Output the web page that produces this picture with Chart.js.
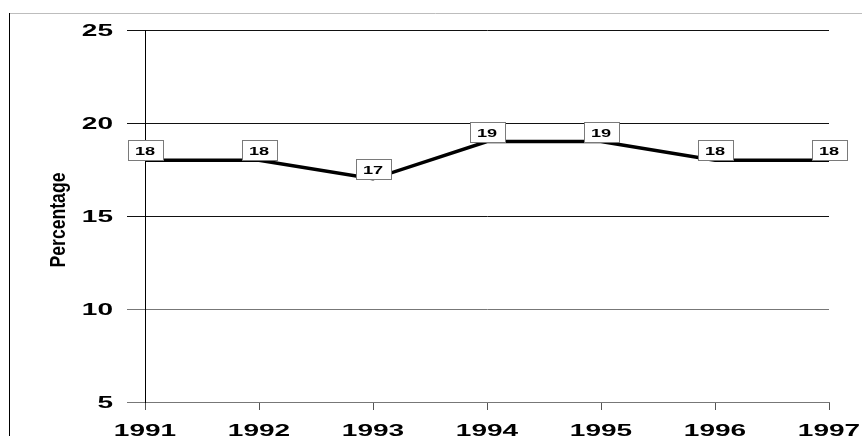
<!DOCTYPE html>
<html>
<head>
<meta charset="utf-8">
<script src="https://cdn.jsdelivr.net/npm/chart.js@4/dist/chart.umd.min.js"></script>
<style>
html,body{margin:0;padding:0;background:#fff;}
canvas{display:block;}
</style>
</head>
<body>
<canvas id="c" width="862" height="436"></canvas>
<script>
const years = ['1991','1992','1993','1994','1995','1996','1997'];
const percentage = [18, 18, 17, 19, 19, 18, 18];
const yTicks = [5, 10, 15, 20, 25];
const yTitle = 'Percentage';

function drawStretched(ctx, text, x, y, align, sx) {
  ctx.save();
  ctx.translate(x, y);
  ctx.scale(sx, 1);
  ctx.textAlign = align;
  ctx.textBaseline = 'middle';
  ctx.fillText(text, 0, 0);
  ctx.restore();
}

const decor = {
  id: 'decor',
  beforeDraw(chart) {
    const ctx = chart.ctx;
    ctx.save();
    ctx.fillStyle = '#fff';
    ctx.fillRect(0, 0, chart.width, chart.height);
    ctx.strokeStyle = '#bdbdbd';
    ctx.lineWidth = 1;
    ctx.beginPath();
    ctx.moveTo(9, 13.5); ctx.lineTo(chart.width, 13.5);
    ctx.stroke();
    ctx.strokeStyle = '#000';
    ctx.beginPath();
    ctx.moveTo(9.5, 13); ctx.lineTo(9.5, chart.height);
    ctx.stroke();
    ctx.restore();
  },
  afterDraw(chart) {
    const ctx = chart.ctx;
    const ys = chart.scales.y, xs = chart.scales.x;
    ctx.save();
    ctx.fillStyle = '#000';
    ctx.font = 'bold 16px "Liberation Sans", Arial, sans-serif';
    ys.ticks.forEach(t => {
      drawStretched(ctx, String(t.value), 113, ys.getPixelForValue(t.value) + 2, 'right', 1.75);
    });
    years.forEach((lab, i) => {
      drawStretched(ctx, lab, xs.getPixelForValue(i), 432, 'center', 1.75);
    });
    // axis title (condensed)
    ctx.font = 'bold 22px "Liberation Sans", Arial, sans-serif';
    ctx.translate(59, 220);
    ctx.rotate(-Math.PI / 2);
    drawStretched(ctx, yTitle, 0, 0, 'center', 0.8);
    ctx.restore();
  },
  afterDatasetsDraw(chart) {
    const ctx = chart.ctx;
    const meta = chart.getDatasetMeta(0);
    ctx.save();
    meta.data.forEach((pt, i) => {
      const w = 35, h = 20;
      const bx = Math.round(pt.x - w / 2) + 0.5;
      const by = Math.round(pt.y - h) + 0.5;
      ctx.fillStyle = '#fff';
      ctx.fillRect(bx, by, w, h);
      ctx.strokeStyle = '#7a7a7a';
      ctx.lineWidth = 1;
      ctx.strokeRect(bx, by, w, h);
      ctx.fillStyle = '#000';
      ctx.font = 'bold 11px "Liberation Sans", Arial, sans-serif';
      drawStretched(ctx, String(percentage[i]), pt.x, by + h / 2 + 1, 'center', 1.65);
    });
    ctx.restore();
  }
};

new Chart(document.getElementById('c'), {
  type: 'line',
  data: {
    labels: years,
    datasets: [{
      data: percentage,
      borderColor: '#000',
      borderWidth: 3.5,
      pointRadius: 0,
      pointHoverRadius: 0,
      tension: 0,
      fill: false,
      clip: false
    }]
  },
  options: {
    responsive: false,
    devicePixelRatio: 1,
    animation: false,
    events: [],
    layout: { padding: { left: 0, top: 30, right: 33, bottom: 0 } },
    plugins: { legend: { display: false }, tooltip: { enabled: false } },
    scales: {
      x: {
        type: 'category',
        offset: false,
        ticks: { display: false },
        grid: { display: true, drawOnChartArea: false, drawTicks: true, tickLength: 8, color: '#555', lineWidth: 1 },
        border: { display: true, color: '#777', width: 1 },
        afterFit(s) { s.height = 34; }
      },
      y: {
        min: 5,
        max: 25,
        afterBuildTicks(s) { s.ticks = yTicks.map(v => ({ value: v })); },
        ticks: { display: false },
        grid: {
          display: true, drawOnChartArea: true, drawTicks: true, tickLength: 18,
          color: ctx => (ctx.tick && ctx.tick.value >= 15 ? '#111' : '#777'),
          lineWidth: 1
        },
        border: { display: true, color: '#000', width: 1 },
        afterFit(s) { s.width = 145; }
      }
    }
  },
  plugins: [decor]
});
</script>
</body>
</html>
